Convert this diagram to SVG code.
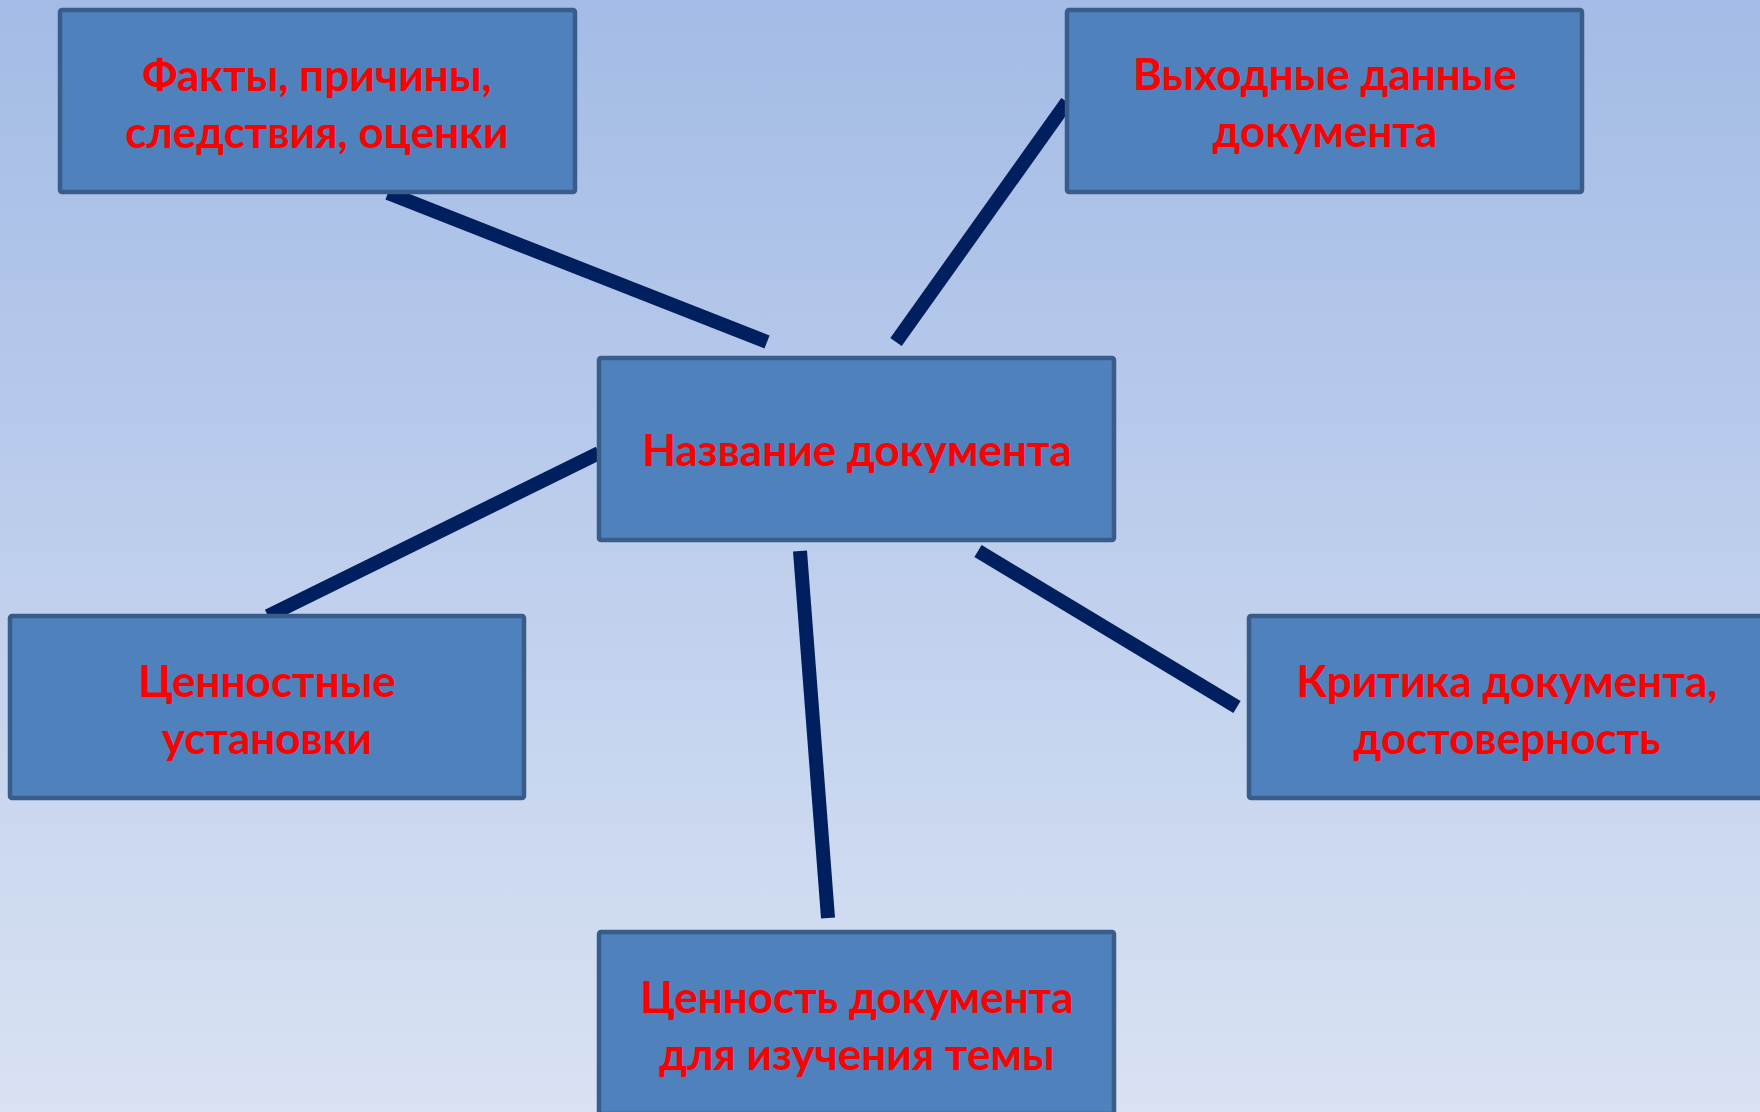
<svg xmlns="http://www.w3.org/2000/svg" width="1760" height="1112" viewBox="0 0 1760 1112">
<defs>
<linearGradient id="bg" x1="0" y1="0" x2="0" y2="1">
<stop offset="0" stop-color="#a3bbe6"/>
<stop offset="1" stop-color="#d9e2f3"/>
</linearGradient>
<style>
.box{fill:#4f81bd;stroke:#385d8a;stroke-width:4.5}
.lbl{font-family:Lato,"Open Sans","Liberation Sans",sans-serif;font-weight:bold;font-size:44px;fill:#ff0000;text-anchor:middle}
.con{stroke:#001f5e;stroke-width:14;stroke-linecap:butt;fill:none}
</style>
</defs>
<rect x="0" y="0" width="1760" height="1112" fill="url(#bg)"/>
<g id="connectors">
<line class="con" x1="388" y1="193" x2="767" y2="342"/>
<line class="con" x1="1067" y1="102" x2="896" y2="342"/>
<line class="con" x1="599" y1="453" x2="268" y2="616"/>
<line class="con" x1="800" y1="551" x2="828" y2="918"/>
<line class="con" x1="978" y1="551" x2="1237" y2="707"/>
</g>
<g id="node-facts">
<rect class="box" x="60" y="10" width="515" height="182" rx="2"/>
<text class="lbl" x="317" y="91">Факты, причины,</text>
<text class="lbl" x="317" y="148">следствия, оценки</text>
</g>
<g id="node-output">
<rect class="box" x="1067" y="10" width="515" height="182" rx="2"/>
<text class="lbl" x="1325" y="90">Выходные данные</text>
<text class="lbl" x="1325" y="147">документа</text>
</g>
<g id="node-title">
<rect class="box" x="599" y="358" width="515" height="182" rx="2"/>
<text class="lbl" x="857" y="466">Название документа</text>
</g>
<g id="node-values">
<rect class="box" x="10" y="616" width="514" height="182" rx="2"/>
<text class="lbl" x="267" y="697">Ценностные</text>
<text class="lbl" x="267" y="754">установки</text>
</g>
<g id="node-critique">
<rect class="box" x="1249" y="616" width="515" height="182" rx="2"/>
<text class="lbl" x="1507" y="697">Критика документа,</text>
<text class="lbl" x="1507" y="754">достоверность</text>
</g>
<g id="node-worth">
<rect class="box" x="599" y="932" width="515" height="182" rx="2"/>
<text class="lbl" x="857" y="1013">Ценность документа</text>
<text class="lbl" x="857" y="1070">для изучения темы</text>
</g>
</svg>
